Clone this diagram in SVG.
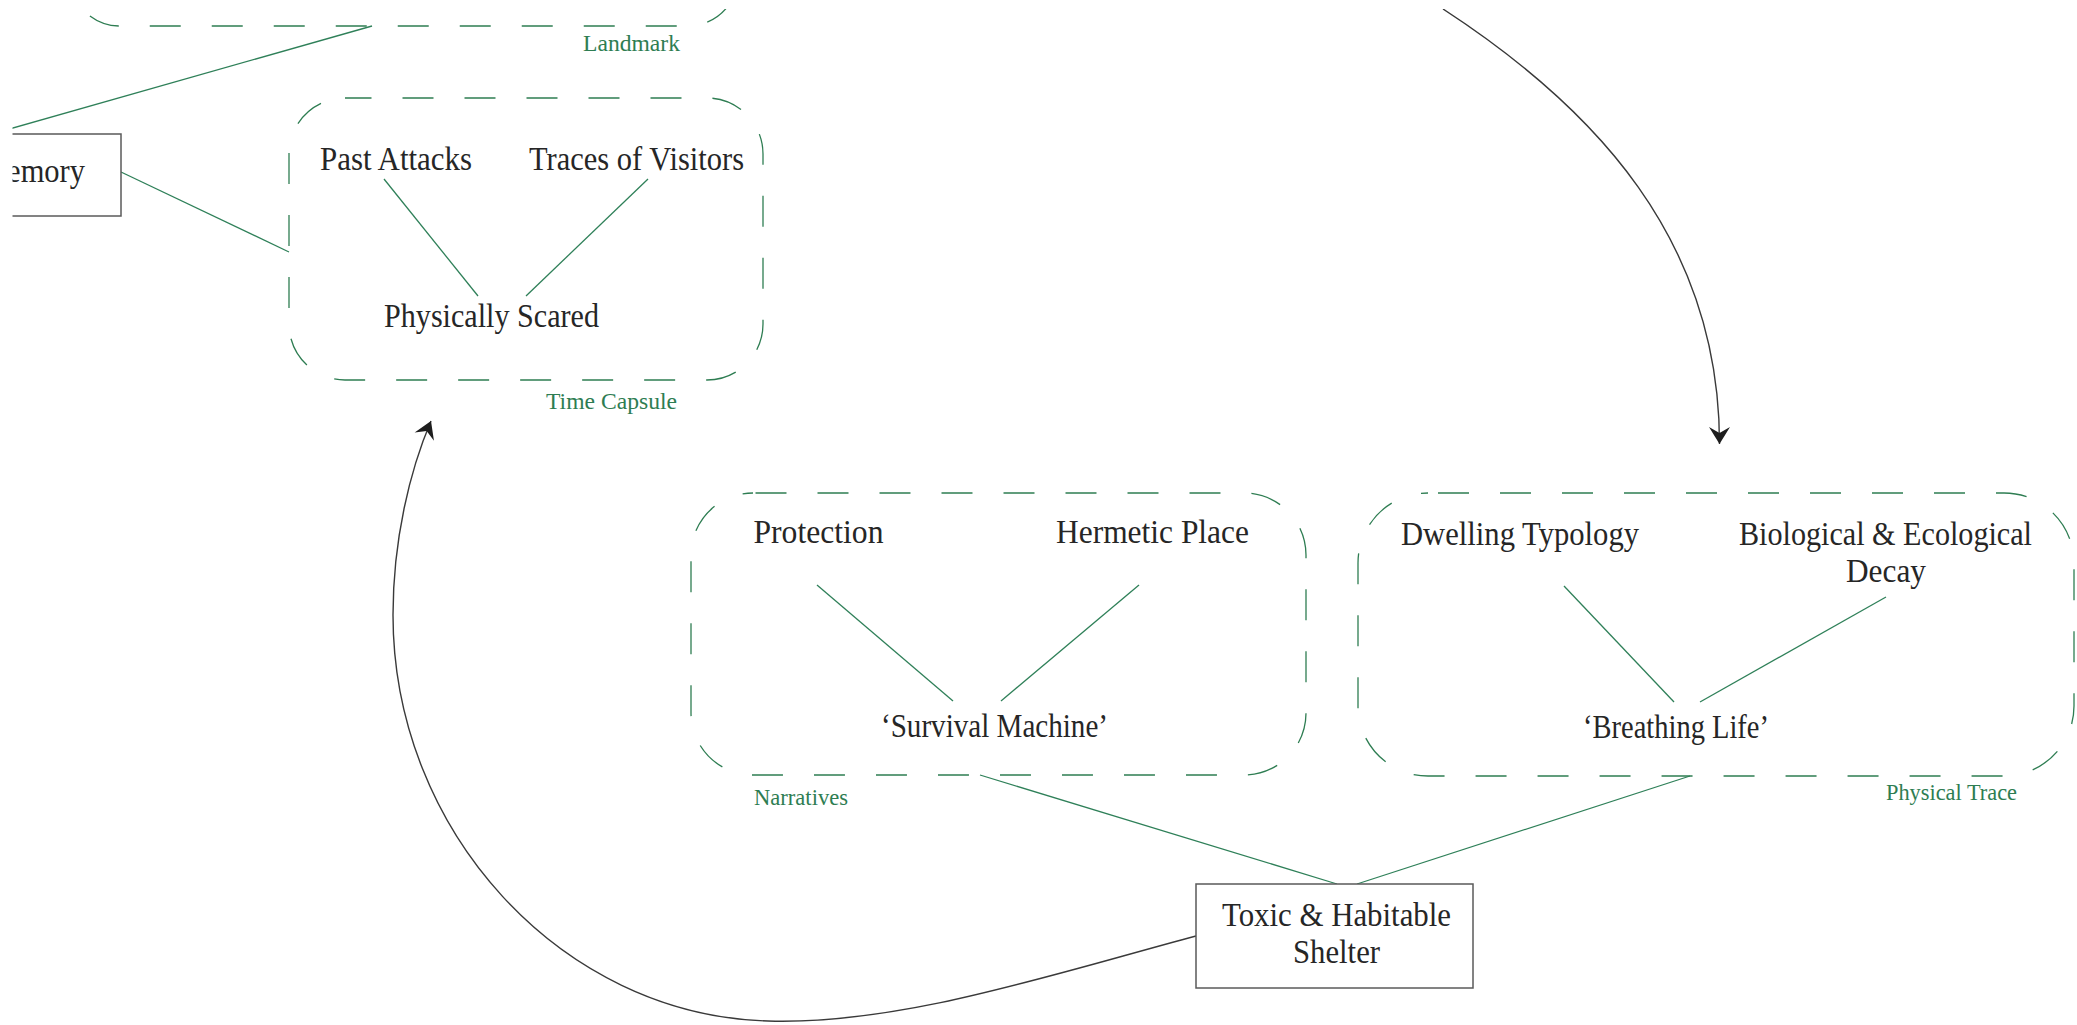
<svg xmlns="http://www.w3.org/2000/svg" width="2077" height="1025" viewBox="0 0 2077 1025">
  <style>
    .t { font-family: "Liberation Serif", "Times New Roman", serif; font-size: 34px; fill: #262626; }
    .g { font-family: "Liberation Serif", "Times New Roman", serif; font-size: 23px; fill: #2e7d52; }
    .grp { fill: none; stroke: #2e7d52; stroke-width: 1.3; stroke-dasharray: 31 31; }
    .box { fill: #ffffff; stroke: #5a5a5a; stroke-width: 1.5; }
    .gl { fill: none; stroke: #2f8059; stroke-width: 1.3; }
    .bl { fill: none; stroke: #3a3a3a; stroke-width: 1.4; marker-end: url(#arr); }
  </style>
  <defs>
    <clipPath id="view"><rect x="12.5" y="9" width="2066" height="1017"/></clipPath>
    <marker id="arr" markerUnits="userSpaceOnUse" markerWidth="30" markerHeight="30" viewBox="0 0 30 30" refX="20" refY="15" orient="auto">
      <path d="M20,15 L3,4.5 L9,15 L3,25.5 Z" fill="#1e1e1e"/>
    </marker>
  </defs>
  <rect width="2077" height="1025" fill="#ffffff"/>
  <g clip-path="url(#view)">
    <g id="connectors">
      <line class="gl" x1="-10" y1="134.5" x2="372" y2="26"/>
      <line class="gl" x1="121" y1="172" x2="289" y2="252"/>
      <line class="gl" x1="384" y1="179" x2="478" y2="296"/>
      <line class="gl" x1="648" y1="179" x2="526" y2="296"/>
      <line class="gl" x1="817" y1="585" x2="953" y2="701"/>
      <line class="gl" x1="1139" y1="585" x2="1001" y2="701"/>
      <line class="gl" x1="1564" y1="586" x2="1674" y2="702"/>
      <line class="gl" x1="1886" y1="597" x2="1700" y2="702"/>
      <line class="gl" x1="980" y1="775" x2="1337" y2="884"/>
      <line class="gl" x1="1690" y1="776" x2="1357" y2="884"/>
      <path class="bl" d="M1196,936 C1050,975 900,1025 768,1021 C560,1015 393,830 393,615 C393,540 410,470 431,421"/>
      <path class="bl" d="M1443,9 C1595,108 1719.5,240 1719.5,444"/>
    </g>
    <g id="landmark">
      <rect class="grp" x="70" y="-205.92" width="668" height="231.92" rx="50"/>
      <text class="g" x="583" y="51" textLength="97" lengthAdjust="spacingAndGlyphs">Landmark</text>
    </g>
    <g id="memory">
      <rect class="box" x="-60" y="134" width="181" height="82"/>
      <text class="t" x="-20" y="182" textLength="105" lengthAdjust="spacingAndGlyphs">Memory</text>
    </g>
    <g id="time-capsule">
      <rect class="grp" x="289" y="98" width="474" height="282" rx="56" stroke-dashoffset="4.5"/>
      <text class="g" x="546" y="409" textLength="131" lengthAdjust="spacingAndGlyphs">Time Capsule</text>
      <g id="past-attacks"><text class="t" x="320" y="170" textLength="152" lengthAdjust="spacingAndGlyphs">Past Attacks</text></g>
      <g id="traces-of-visitors"><text class="t" x="529" y="170" textLength="215" lengthAdjust="spacingAndGlyphs">Traces of Visitors</text></g>
      <g id="physically-scared"><text class="t" x="384" y="327" textLength="215" lengthAdjust="spacingAndGlyphs">Physically Scared</text></g>
    </g>
    <g id="narratives">
      <rect class="grp" x="691" y="493" width="615" height="282" rx="62" stroke-dashoffset="59.5"/>
      <text class="g" x="754" y="805" textLength="94" lengthAdjust="spacingAndGlyphs">Narratives</text>
      <g id="protection"><text class="t" x="753.5" y="543" textLength="130" lengthAdjust="spacingAndGlyphs">Protection</text></g>
      <g id="hermetic-place"><text class="t" x="1056" y="543" textLength="193" lengthAdjust="spacingAndGlyphs">Hermetic Place</text></g>
      <g id="survival-machine"><text class="t" x="881" y="737" textLength="227" lengthAdjust="spacingAndGlyphs">‘Survival Machine’</text></g>
    </g>
    <g id="physical-trace">
      <rect class="grp" x="1358" y="493" width="716" height="283" rx="70" stroke-dashoffset="52"/>
      <text class="g" x="1886" y="800" textLength="131" lengthAdjust="spacingAndGlyphs">Physical Trace</text>
      <g id="dwelling-typology"><text class="t" x="1401" y="545" textLength="238" lengthAdjust="spacingAndGlyphs">Dwelling Typology</text></g>
      <g id="biological-decay">
        <text class="t" x="1739" y="545" textLength="293" lengthAdjust="spacingAndGlyphs">Biological &amp; Ecological</text>
        <text class="t" x="1846" y="582" textLength="80" lengthAdjust="spacingAndGlyphs">Decay</text>
      </g>
      <g id="breathing-life"><text class="t" x="1583" y="738" textLength="186" lengthAdjust="spacingAndGlyphs">‘Breathing Life’</text></g>
    </g>
    <g id="toxic-shelter">
      <rect class="box" x="1196" y="884" width="277" height="104"/>
      <text class="t" x="1222" y="926" textLength="229" lengthAdjust="spacingAndGlyphs">Toxic &amp; Habitable</text>
      <text class="t" x="1293" y="963" textLength="87" lengthAdjust="spacingAndGlyphs">Shelter</text>
    </g>
  </g>
</svg>
